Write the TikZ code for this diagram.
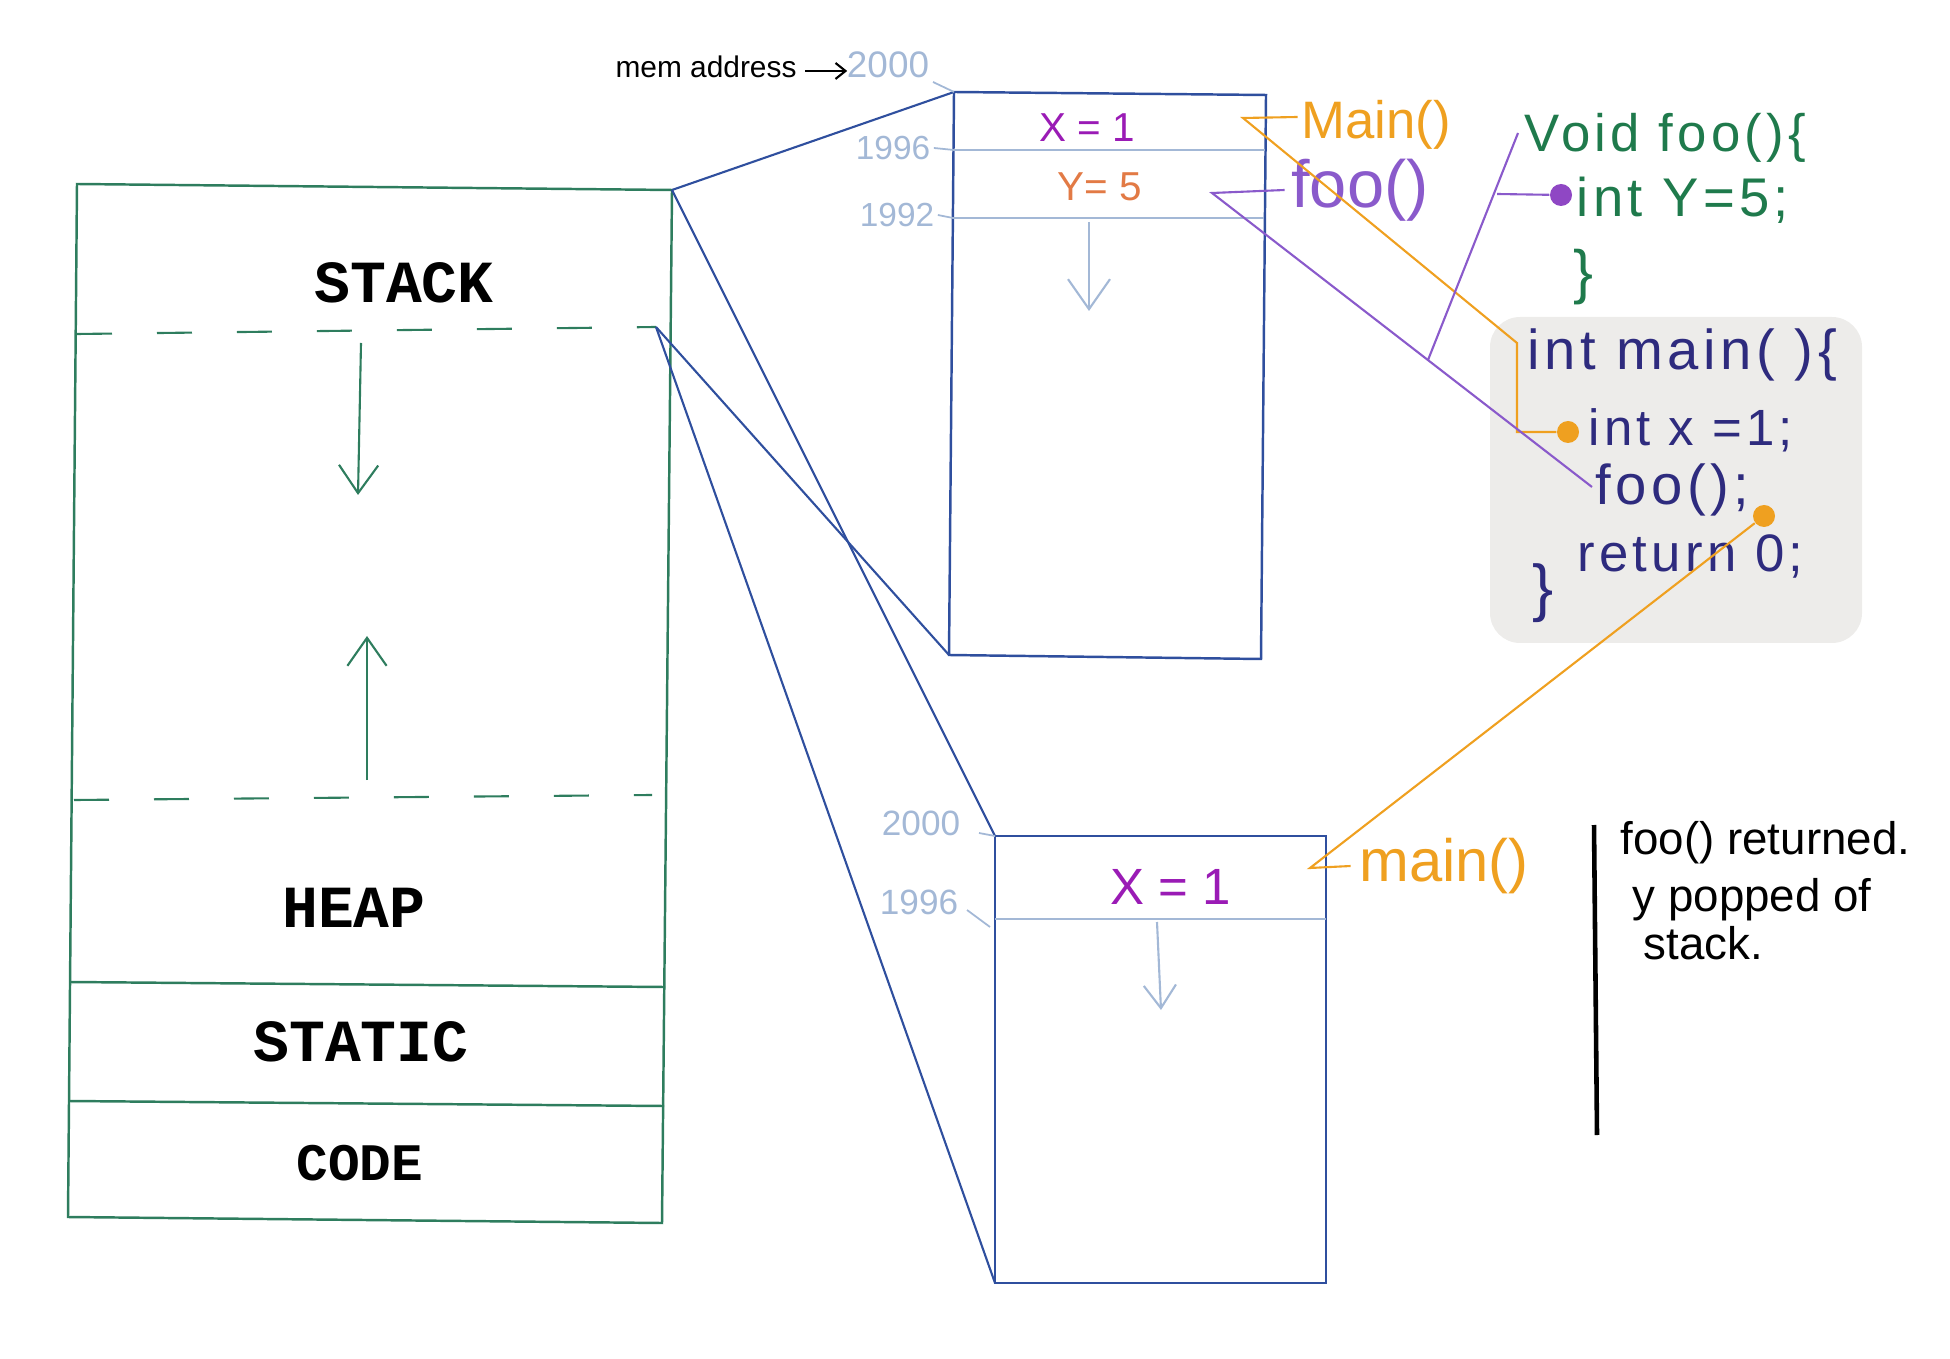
\documentclass[tikz,border=0pt]{standalone}
\usepackage{fontspec}
\setmainfont{Liberation Sans}
\setmonofont{Liberation Mono}
\usetikzlibrary{arrows.meta,positioning}

\definecolor{boxgreen}{HTML}{2E7D5E}
\definecolor{boxblue}{HTML}{2F4F9E}
\definecolor{addrblue}{HTML}{A3B8D6}
\definecolor{varpurple}{HTML}{9A1BB5}
\definecolor{varorange}{HTML}{E27A45}
\definecolor{callorange}{HTML}{EFA020}
\definecolor{callpurple}{HTML}{8A5ACB}
\definecolor{codegreen}{HTML}{1F7A4C}
\definecolor{codenavy}{HTML}{2E2B7E}
\definecolor{codebg}{HTML}{EDECEA}

\begin{document}
\begin{tikzpicture}[x=0.1mm,y=-0.1mm,
    region/.style={inner sep=0pt,font=\fontsize{17}{20}\selectfont\ttfamily\bfseries},
    addr/.style={inner sep=0pt,text=addrblue,font=\fontsize{9.5}{11}\selectfont},
    hand/.style={inner sep=0pt,font=\fontsize{#1}{#1}\selectfont},
    hand/.default=17,
    code/.style={inner sep=0pt,anchor=west,font=\fontsize{#1}{#1}\selectfont\addfontfeature{LetterSpace=8}},
    code/.default=15,
    vee/.style={-{Straight Barb[length=#1,width=1.4*#1]}},
    vee/.default=2.8mm,
    dot/.style={circle,fill,inner sep=0pt,minimum size=2.2mm}]
  \useasboundingbox (0,0) rectangle (1950,1359);

  % memory layout
  \coordinate (b-tl) at (77,184);
  \coordinate (b-tr) at (672,190);
  \coordinate (b-br) at (662,1223);
  \coordinate (b-bl) at (68,1217);
  \coordinate (d-top) at (656,327);
  \draw[boxgreen,line width=0.7pt] (b-tl) -- (b-tr) -- (b-br) -- (b-bl) -- cycle;
  \draw[boxgreen,line width=0.7pt] (70,982) -- (665,987);
  \draw[boxgreen,line width=0.7pt] (69,1101) -- (664,1106);
  \draw[boxgreen,line width=0.6pt,dash pattern=on 3.5mm off 4.5mm] (77,334) -- (d-top);
  \draw[boxgreen,line width=0.6pt,dash pattern=on 3.5mm off 4.5mm] (74,800) -- (652,795);
  \draw[boxgreen,line width=0.6pt,vee] (361,343) -- (358,495);
  \draw[boxgreen,line width=0.6pt,vee] (367,780) -- (367,636);

  \node[region] (stack) at (404,283) {STACK};
  \node[region] (heap) at (354,908) {HEAP};
  \node[region] (static) at (361,1042) {STATIC};
  \node[region,font=\fontsize{15}{18}\selectfont\ttfamily\bfseries] (code) at (360,1163) {CODE};

  % stack frames, before and after
  \coordinate (u-tl) at (954,92);
  \coordinate (u-tr) at (1266,95);
  \coordinate (u-br) at (1261,659);
  \coordinate (u-bl) at (949,655);
  \coordinate (l-tl) at (995,836);
  \coordinate (l-tr) at (1326,836);
  \coordinate (l-br) at (1326,1283);
  \coordinate (l-bl) at (995,1283);
  \draw[boxblue,line width=0.7pt] (u-tl) -- (u-tr) -- (u-br) -- (u-bl) -- cycle;
  \draw[boxblue,line width=0.7pt] (l-tl) -- (l-tr) -- (l-br) -- (l-bl) -- cycle;
  \draw[boxblue,line width=0.6pt] (b-tr) -- (u-tl);
  \draw[boxblue,line width=0.6pt] (b-tr) -- (l-tl);
  \draw[boxblue,line width=0.6pt] (d-top) -- (u-bl);
  \draw[boxblue,line width=0.6pt] (d-top) -- (l-bl);

  \coordinate (u-a1) at (954,150);
  \coordinate (u-a2) at (953,218);
  \coordinate (l-a1) at (995,919);
  \draw[addrblue,line width=0.6pt] (u-a1) -- (1265,150);
  \draw[addrblue,line width=0.6pt] (u-a2) -- (1264,218);
  \draw[addrblue,line width=0.6pt] (l-a1) -- (1326,919);
  \draw[addrblue,line width=0.6pt,vee=3mm] (1089,222) -- (1089,311);
  \draw[addrblue,line width=0.6pt,vee=2.3mm] (1157,922) -- (1161,1010);

  \node[inner sep=0pt,font=\fontsize{8.5}{10}\selectfont] (mem) at (706,67) {mem address};
  \node[addr,font=\fontsize{10.5}{12}\selectfont] (u2000) at (888,65) {2000};
  \node[addr] (u1996) at (893,148) {1996};
  \node[addr] (u1992) at (897,215) {1992};
  \node[addr,font=\fontsize{10}{12}\selectfont] (l2000) at (921,823) {2000};
  \node[addr,font=\fontsize{10}{12}\selectfont] (l1996) at (919,902) {1996};
  \draw[line width=0.6pt,-{Straight Barb[length=1mm,width=1.6mm]}] (mem.east) ++(8,4) -- ++(42,0);
  \draw[addrblue,line width=0.5pt] (933,82) -- (u-tl);
  \draw[addrblue,line width=0.5pt] (u1996.east) ++(3,0) -- (u-a1);
  \draw[addrblue,line width=0.5pt] (u1992.east) ++(3,0) -- (u-a2);
  \draw[addrblue,line width=0.5pt] (979,833) -- (l-tl);
  \draw[addrblue,line width=0.5pt] (967,910) -- (990,927);

  \node[hand=11.5,text=varpurple] (ux) at (1087,128) {X = 1};
  \node[hand=11.5,text=varorange] (uy) at (1100,187) {Y= 5};
  \node[hand=14.5,text=varpurple] (lx) at (1171,887) {X = 1};

  % source code
  \fill[codebg,rounded corners=3mm] (1490,317) rectangle (1862,643);
  \node[code,text=codegreen] (voidfoo) at (1524,138) {Void foo()\{};
  \node[code=15.5,text=codegreen] (inty) at (1576,200) {int Y=5;};
  \node[hand,text=codegreen] (fooend) at (1583,277) {\}};
  \node[code=16,text=codenavy] (intmain) at (1527,355) {int main( )\{};
  \node[code=14.5,text=codenavy] (intx) at (1588,430) {int x =1;};
  \node[code=16,text=codenavy] (foocall) at (1595,490) {foo();};
  \node[code,text=codenavy] (ret) at (1577,556) {return 0;};
  \node[hand=18,text=codenavy] (mainend) at (1543,593) {\}};

  % frame labels
  \node[hand=15,text=callorange] (umain) at (1376,125) {Main()};
  \node[hand=19,text=callpurple] (ufoo) at (1360,190) {foo()};
  \node[hand=17,text=callorange] (lmain) at (1444,866) {main()};

  \node[dot,callpurple!70!varpurple] (doty) at (1561,195) {};
  \node[dot,callorange] (dotx) at (1568,432) {};
  \node[dot,callorange] (dotret) at (1764,516) {};

  \draw[callorange,line width=0.6pt] (umain.west) ++(-3,-8) -- (1243,118) -- (1517,343) -- (1517,432) -- (dotx);
  \draw[callpurple,line width=0.6pt] (ufoo.west) ++(-6,0) -- (1212,193) -- (1592,487);
  \draw[callpurple,line width=0.6pt] (1428,360) -- (1518,133);
  \draw[callpurple,line width=0.6pt] (1497,194) -- (doty);
  \draw[callorange,line width=0.6pt] (lmain.west) ++(-8,0) -- (1310,868) -- (dotret);

  % after foo() returns
  \draw[line width=1.3pt] (1594,825) -- (1597,1135);
  \node[hand=13,anchor=west] (ret1) at (1620,843) {foo() returned.};
  \node[hand=13,anchor=west] (ret2) at (1632,900) {y popped of};
  \node[hand=13,anchor=west] (ret3) at (1643,943) {stack.};
\end{tikzpicture}
\end{document}
